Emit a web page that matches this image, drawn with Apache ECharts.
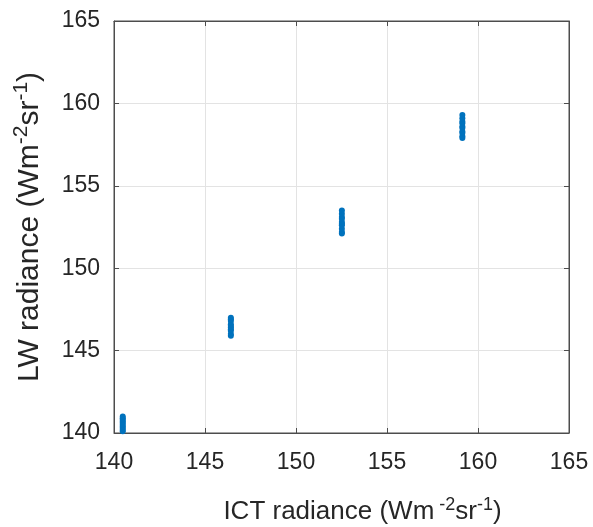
<!DOCTYPE html>
<html>
<head>
<meta charset="utf-8">
<script src="https://cdn.jsdelivr.net/npm/echarts@6/dist/echarts.min.js"></script>
<style>
  html, body { margin: 0; padding: 0; background: #fff; }
  #chart { width: 593px; height: 527px; }
</style>
</head>
<body>
<div id="chart"></div>
<script>
// four calibration clusters
var ictX = [140.48, 140.48, 140.48, 140.48, 140.48, 140.48, 140.48, 140.48, 140.48, 140.48,
            146.42, 146.42, 146.42, 146.42, 146.42, 146.42, 146.42, 146.42, 146.42, 146.42,
            152.52, 152.52, 152.52, 152.52, 152.52, 152.52, 152.52, 152.52, 152.52, 152.52,
            159.14, 159.14, 159.14, 159.14, 159.14, 159.14, 159.14, 159.14, 159.14, 159.14];
var lwY  = [140.1, 140.2, 140.3, 140.4, 140.5, 140.6, 140.7, 140.8, 140.9, 141.0,
            145.9, 146.0, 146.2, 146.3, 146.4, 146.5, 146.6, 146.8, 146.9, 147.0,
            152.1, 152.2, 152.4, 152.6, 152.7, 152.8, 153.0, 153.1, 153.3, 153.5,
            157.9, 158.0, 158.2, 158.3, 158.5, 158.6, 158.8, 158.9, 159.1, 159.3];
var xTicks = [140, 145, 150, 155, 160, 165];
var yTicks = [140, 145, 150, 155, 160, 165];

var pts = [];
for (var i = 0; i < ictX.length; i++) pts.push([ictX[i], lwY[i]]);

var axisCol = '#4d4d4d';
var fam = 'Liberation Sans, Arial, sans-serif';
var txtCol = '#262626';
var labelFont = { fontFamily: fam, fontSize: 23, color: txtCol };
var richX = {
  n: { fontFamily: fam, fontSize: 26, color: txtCol },
  sup: { fontFamily: fam, fontSize: 18, color: txtCol, verticalAlign: 'top', padding: [0, 0, 14, 0] }
};
var richY = {
  n: { fontFamily: fam, fontSize: 30, color: txtCol },
  sup: { fontFamily: fam, fontSize: 21, color: txtCol, verticalAlign: 'top', padding: [0, 0, 16, 0] }
};

var myChart = echarts.init(document.getElementById('chart'));
var option = {
  animation: false,
  grid: { left: 114, top: 21, width: 455, height: 412, containLabel: false, outerBoundsMode: 'none',
          show: true, borderColor: axisCol, borderWidth: 1 },
  xAxis: [{
    type: 'value', min: xTicks[0], max: xTicks[xTicks.length - 1], interval: 5,
    name: '{n|ICT radiance (Wm}{sup| -2}{n|sr}{sup|-1}{n|)}',
    nameLocation: 'middle', nameGap: 63,
    nameTextStyle: { rich: richX, padding: [0, 0, 0, 42] },
    axisLine: { lineStyle: { color: axisCol } },
    axisTick: { inside: true, length: 5, lineStyle: { color: axisCol } },
    axisLabel: Object.assign({ margin: 18 }, labelFont),
    splitLine: { lineStyle: { color: '#e3e3e3' } }
  }, {
    type: 'value', position: 'top', min: xTicks[0], max: xTicks[xTicks.length - 1], interval: 5,
    axisLine: { lineStyle: { color: axisCol } },
    axisTick: { inside: true, length: 5, lineStyle: { color: axisCol } },
    axisLabel: { show: false }, splitLine: { show: false }
  }],
  yAxis: [{
    type: 'value', min: yTicks[0], max: yTicks[yTicks.length - 1], interval: 5,
    name: '{n|LW radiance (Wm}{sup|-2}{n|sr}{sup|-1}{n|)}',
    nameLocation: 'middle', nameGap: 66, nameRotate: 90,
    nameTextStyle: { rich: richY },
    axisLine: { lineStyle: { color: axisCol } },
    axisTick: { inside: true, length: 5, lineStyle: { color: axisCol } },
    axisLabel: Object.assign({ margin: 14 }, labelFont),
    splitLine: { lineStyle: { color: '#e3e3e3' } }
  }, {
    type: 'value', position: 'right', min: yTicks[0], max: yTicks[yTicks.length - 1], interval: 5,
    axisLine: { lineStyle: { color: axisCol } },
    axisTick: { inside: true, length: 5, lineStyle: { color: axisCol } },
    axisLabel: { show: false }, splitLine: { show: false }
  }],
  series: [{
    type: 'scatter',
    data: pts,
    symbol: 'circle',
    symbolSize: 6,
    itemStyle: { color: '#0072BD', opacity: 1 }
  }]
};
myChart.setOption(option);
</script>
</body>
</html>
